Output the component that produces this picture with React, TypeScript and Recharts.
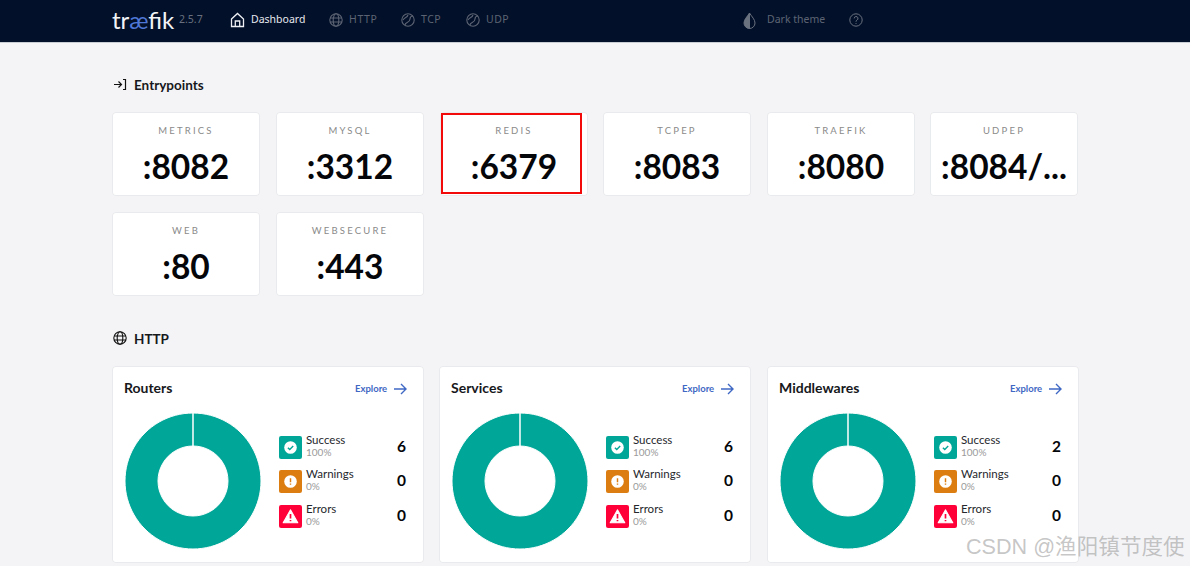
import React from "react";
import { PieChart, Pie, Cell } from "recharts";

const entryNames = ["METRICS", "MYSQL", "REDIS", "TCPEP", "TRAEFIK", "UDPEP", "WEB", "WEBSECURE"];
const entryPorts = [":8082", ":3312", ":6379", ":8083", ":8080", ":8084/...", ":80", ":443"];
const entryX = [112, 276, 440, 603, 767, 930, 112, 276];
const entryY = [112, 112, 112, 112, 112, 112, 212, 212];

const panelNames = ["Routers", "Services", "Middlewares"];
const panelX = [112, 439, 767];
const statusNames = ["Success", "Warnings", "Errors"];
const statusColors = ["#00a697", "#db7d11", "#ff0039"];
const routersValues = [6, 0, 0];
const servicesValues = [6, 0, 0];
const middlewaresValues = [2, 0, 0];
const panelValues = [routersValues, servicesValues, middlewaresValues];

const FONT = "Lato, 'Noto Sans', sans-serif";
const NAV_FONT = "'Noto Sans', Lato, sans-serif";

const abs = (left: number, top: number, extra: React.CSSProperties = {}): React.CSSProperties => ({
  position: "absolute",
  left,
  top,
  whiteSpace: "nowrap",
  ...extra,
});

function Globe({ x, y, color, size = 14 }: { x: number; y: number; color: string; size?: number }) {
  return (
    <svg style={abs(x, y)} width={size} height={size} viewBox="0 0 14 14" fill="none" stroke={color} strokeWidth="1.1">
      <circle cx="7" cy="7" r="6.2" />
      <ellipse cx="7" cy="7" rx="2.8" ry="6.2" />
      <path d="M1 5h12M1 9h12" />
    </svg>
  );
}

function Ball({ x, color }: { x: number; color: string }) {
  return (
    <svg style={abs(x, 13)} width={14} height={14} viewBox="0 0 14 14" fill="none" stroke={color} strokeWidth="1.1">
      <circle cx="7" cy="7" r="6.2" />
      <path d="M4 12c0-3 5-2 5-6 0-2 1-3 3-3M2 7c2-3 4-2 5-5" />
    </svg>
  );
}

function NavBar() {
  return (
    <div style={abs(0, 0, { width: 1190, height: 43, background: "#031029", borderBottom: "1px solid #c9ced4", boxSizing: "border-box" })}>
      <div style={abs(112, 5, { fontFamily: FONT, fontSize: 24, fontWeight: 400, color: "#f2f4f7" })}>
        tr<span style={{ color: "#4f78d6" }}>æ</span>fik
      </div>
      <div style={abs(179, 12, { fontFamily: NAV_FONT, fontSize: 10.5, color: "#68707f" })}>2.5.7</div>
      <svg style={abs(230, 12)} width={15} height={16} viewBox="0 0 15 16" fill="none" stroke="#eef0f4" strokeWidth="1.3">
        <path d="M1.5 7 7.5 1.5 13.5 7V14.5H1.5Z" />
        <path d="M5.3 14.5V9h4.4v5.5" />
      </svg>
      <div style={abs(251, 12, { fontFamily: NAV_FONT, fontSize: 10.5, color: "#e6e9ef" })}>Dashboard</div>
      <Globe x={329} y={13} color="#5c6474" />
      <div style={abs(349, 12, { fontFamily: NAV_FONT, fontSize: 10.5, letterSpacing: 0.6, color: "#5c6474" })}>HTTP</div>
      <Ball x={401} color="#5c6474" />
      <div style={abs(421, 12, { fontFamily: NAV_FONT, fontSize: 10.5, letterSpacing: 0.5, color: "#5c6474" })}>TCP</div>
      <Ball x={466} color="#5c6474" />
      <div style={abs(486, 12, { fontFamily: NAV_FONT, fontSize: 10.5, letterSpacing: 0.5, color: "#5c6474" })}>UDP</div>
      <svg style={abs(743, 12)} width={13} height={17} viewBox="0 0 13 17">
        <path d="M6.5 1C4 5 1 7.5 1 11a5.5 5.5 0 0 0 5.5 5.5Z" fill="#6a7280" stroke="#6a7280" strokeWidth="1" />
        <path d="M6.5 1C9 5 12 7.5 12 11a5.5 5.5 0 0 1-5.5 5.5Z" fill="none" stroke="#6a7280" strokeWidth="1" />
      </svg>
      <div style={abs(767, 12, { fontFamily: NAV_FONT, fontSize: 10.5, color: "#5c6474" })}>Dark theme</div>
      <svg style={abs(849, 13)} width={14} height={14} viewBox="0 0 14 14" fill="none" stroke="#6a7280" strokeWidth="1">
        <circle cx="7" cy="7" r="6.2" />
        <path d="M5.2 5.4a1.9 1.9 0 1 1 2.8 1.7c-.7.4-1 .8-1 1.6M7 10v.9" />
      </svg>
    </div>
  );
}

function EntryCard({ i }: { i: number }) {
  return (
    <div
      style={abs(entryX[i], entryY[i], {
        width: 148,
        height: 84,
        background: "#fff",
        borderRadius: 4,
        boxShadow: "inset 0 0 0 1px #e9eaed",
        textAlign: "center",
      })}
    >
      <div style={{ position: "absolute", top: 13, width: "100%", fontFamily: FONT, fontSize: 9.5, letterSpacing: 2.2, color: "#8a8a8a" }}>
        {entryNames[i]}
      </div>
      <div style={{ position: "absolute", top: 34, width: "100%", fontFamily: FONT, fontSize: 33.5, fontWeight: 700, color: "#05060a" }}>
        {entryPorts[i]}
      </div>
    </div>
  );
}

function StatusIcon({ kind }: { kind: number }) {
  if (kind === 2) {
    return (
      <svg width={23} height={23} viewBox="0 0 22 22" style={{ display: "block" }}>
        <rect width="22" height="22" rx="2" fill={statusColors[2]} />
        <path d="M11 4.5 18 17H4Z" fill="#fff" stroke="#fff" strokeLinejoin="round" />
        <path d="M11 8.5v4.5M11 14.3v1.2" stroke={statusColors[2]} strokeWidth="1.6" />
      </svg>
    );
  }
  return (
    <svg width={23} height={23} viewBox="0 0 22 22" style={{ display: "block" }}>
      <rect width="22" height="22" rx="2" fill={statusColors[kind]} />
      <circle cx="11" cy="11" r="6" fill="#fff" />
      {kind === 0 ? (
        <path d="M8.5 11.2 10.3 13 13.6 9.6" fill="none" stroke={statusColors[0]} strokeWidth="1.3" />
      ) : (
        <path d="M11 7.8v3.8M11 12.8v1.3" stroke={statusColors[1]} strokeWidth="1.4" />
      )}
    </svg>
  );
}

function Panel({ i }: { i: number }) {
  const values = panelValues[i];
  const total = values.reduce((a, b) => a + b, 0);
  const data = statusNames.map((name, k) => ({ name, value: values[k] }));
  return (
    <div
      style={abs(panelX[i], 366, {
        width: 312,
        height: 197,
        background: "#fff",
        borderRadius: 4,
        boxShadow: "inset 0 0 0 1px #e9eaed",
      })}
    >
      <div style={abs(12, 13, { fontFamily: FONT, fontSize: 14, fontWeight: 700, color: "#17181c" })}>{panelNames[i]}</div>
      <div style={abs(243, 17, { fontFamily: FONT, fontSize: 9.5, fontWeight: 700, color: "#3f68c4" })}>Explore</div>
      <svg style={abs(282, 17)} width={13} height={12} viewBox="0 0 13 12" fill="none" stroke="#3f68c4" strokeWidth="1.4">
        <path d="M0 6h12M7 1l5 5-5 5" />
      </svg>
      <div style={abs(6, 40)}>
        <PieChart width={150} height={150} margin={{ top: 0, right: 0, bottom: 0, left: 0 }}>
          <Pie
            data={data}
            dataKey="value"
            cx={75}
            cy={75}
            innerRadius={35}
            outerRadius={68}
            startAngle={90}
            endAngle={-270}
            stroke="#fff"
            strokeWidth={1}
            isAnimationActive={false}
          >
            {data.map((d, k) => (
              <Cell key={d.name} fill={statusColors[k]} />
            ))}
          </Pie>
        </PieChart>
      </div>
      {statusNames.map((name, k) => (
        <div key={name}>
          <div style={abs(167, 70 + k * 34.3)}>
            <StatusIcon kind={k} />
          </div>
          <div style={abs(194, 67 + k * 34.3, { fontFamily: FONT, fontSize: 11.5, color: "#26282d" })}>{name}</div>
          <div style={abs(194, 80 + k * 34.3, { fontFamily: FONT, fontSize: 10, color: "#9a9a9a" })}>
            {total ? Math.round((values[k] / total) * 100) : 0}%
          </div>
          <div style={abs(285, 71 + k * 34.3, { fontFamily: FONT, fontSize: 15.5, fontWeight: 700, color: "#05060a" })}>{values[k]}</div>
        </div>
      ))}
    </div>
  );
}

export default function App() {
  return (
    <div style={{ position: "fixed", left: 0, top: 0, width: 1190, height: 566, background: "#f4f4f7", overflow: "hidden" }}>
      <NavBar />
      <svg style={abs(113, 78)} width={14} height={13} viewBox="0 0 14 13" fill="none" stroke="#111" strokeWidth="1.2">
        <path d="M1 6.5h7M5.5 3.5l3 3-3 3M10 1.5h2.5v10H10" />
      </svg>
      <div style={abs(134, 77, { fontFamily: FONT, fontSize: 13.5, fontWeight: 700, color: "#17181c" })}>Entrypoints</div>
      {entryNames.map((_, i) => (
        <EntryCard key={i} i={i} />
      ))}
      <div style={abs(441, 113, { width: 141, height: 81, border: "2px solid #f20a0a", boxSizing: "border-box" })} />
      <Globe x={113} y={331} color="#111" />
      <div style={abs(134, 331, { fontFamily: FONT, fontSize: 13.5, fontWeight: 700, color: "#17181c" })}>HTTP</div>
      {panelNames.map((_, i) => (
        <Panel key={i} i={i} />
      ))}
      <div
        style={abs(966, 529, {
          fontFamily: "'Liberation Sans', 'Noto Sans CJK SC', sans-serif",
          fontSize: 21.6,
          color: "rgba(150,150,150,0.55)",
        })}
      >
        CSDN @渔阳镇节度使
      </div>
    </div>
  );
}
